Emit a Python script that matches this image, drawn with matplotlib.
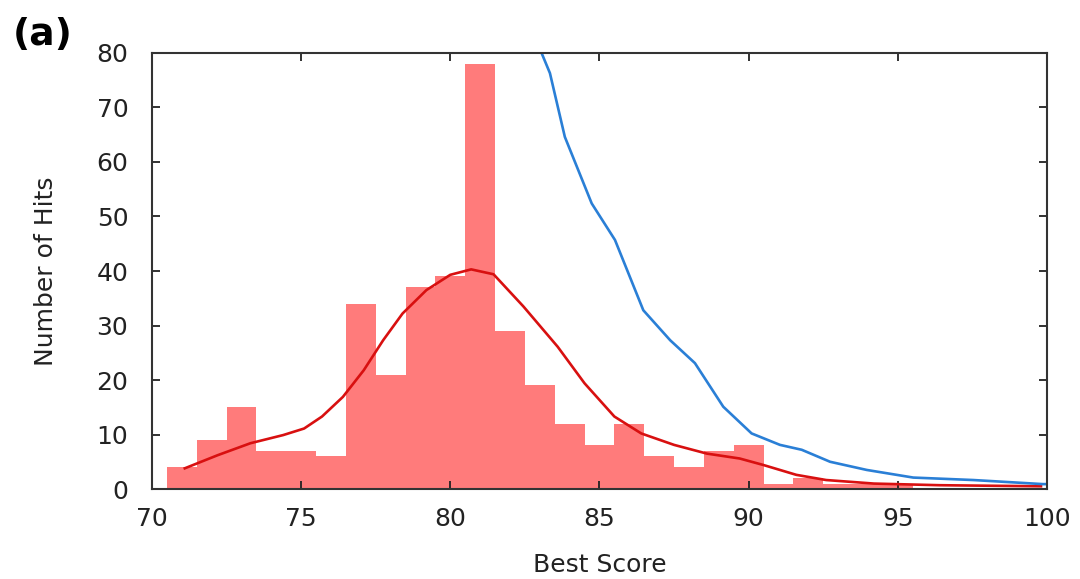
import matplotlib.pyplot as plt

# histogram of best scores (bin left edges, width 1)
bin_left = [70.5, 71.5, 72.5, 73.5, 74.5, 75.5, 76.5, 77.5, 78.5, 79.5,
            80.5, 81.5, 82.5, 83.5, 84.5, 85.5, 86.5, 87.5, 88.5, 89.5,
            90.5, 91.5, 92.5, 93.5, 94.5, 95.5]
hits = [4, 9, 15, 7, 7, 6, 34, 21, 37, 39,
        78, 29, 19, 12, 8, 12, 6, 4, 7, 8,
        1, 2, 1, 1, 1, 0]

# smoothed density curve (red)
kde_x = [71.1, 72.2, 73.3, 74.4, 75.1, 75.7, 76.4, 77.1, 77.75, 78.4,
         79.2, 80.0, 80.7, 81.45, 82.45, 83.6, 84.5, 85.5, 86.4, 87.5,
         88.6, 89.7, 90.5, 91.6, 92.6, 94.2, 96.4, 99.8]
kde_y = [3.8, 6.2, 8.4, 9.9, 11.1, 13.3, 16.9, 21.8, 27.3, 32.2,
         36.5, 39.3, 40.3, 39.4, 33.5, 26.1, 19.4, 13.3, 10.2, 8.1,
         6.5, 5.6, 4.4, 2.6, 1.65, 1.0, 0.7, 0.5]

# blue curve
blue_x = [83.06, 83.34, 83.84, 84.74, 85.52, 86.47, 87.37, 88.2, 89.15,
          90.1, 91.05, 91.78, 92.73, 93.96, 95.52, 97.53, 99.87, 100.0]
blue_y = [80, 76.3, 64.6, 52.4, 45.7, 32.8, 27.3, 23.1, 15.1,
          10.2, 8.1, 7.2, 5.0, 3.5, 2.1, 1.65, 0.9, 0.9]

plt.rcParams['font.family'] = ['DejaVu Sans']
fig = plt.figure(figsize=(10.8, 5.79), dpi=100)
ax = fig.add_axes([0.1407, 0.1554, 0.8287, 0.7531])

ax.bar(bin_left, hits, width=1.0, align='edge', color='#ff7b7b', linewidth=0)
ax.plot(kde_x, kde_y, color='#d81010', linewidth=1.9)
ax.plot(blue_x, blue_y, color='#2a7fd6', linewidth=1.9)

ax.set_xlim(70, 100)
ax.set_ylim(0, 80)
ax.set_xticks([70, 75, 80, 85, 90, 95, 100])
ax.set_yticks(range(0, 81, 10))
ax.tick_params(direction='in', length=6, width=1.3, top=True, right=True,
               labelsize=18, colors='#222222')
ax.tick_params(axis='x', pad=13)
ax.tick_params(axis='y', pad=17)
for s in ax.spines.values():
    s.set_color('#333333')
    s.set_linewidth(1.5)

ax.set_xlabel('Best Score', fontsize=18, color='#222222', labelpad=16)
ax.set_ylabel('Number of Hits', fontsize=18, color='#222222', labelpad=28)

fig.text(0.012, 0.94, '(a)', fontsize=27, fontweight='bold', va='center')

fig.savefig('out.png', dpi=100)
